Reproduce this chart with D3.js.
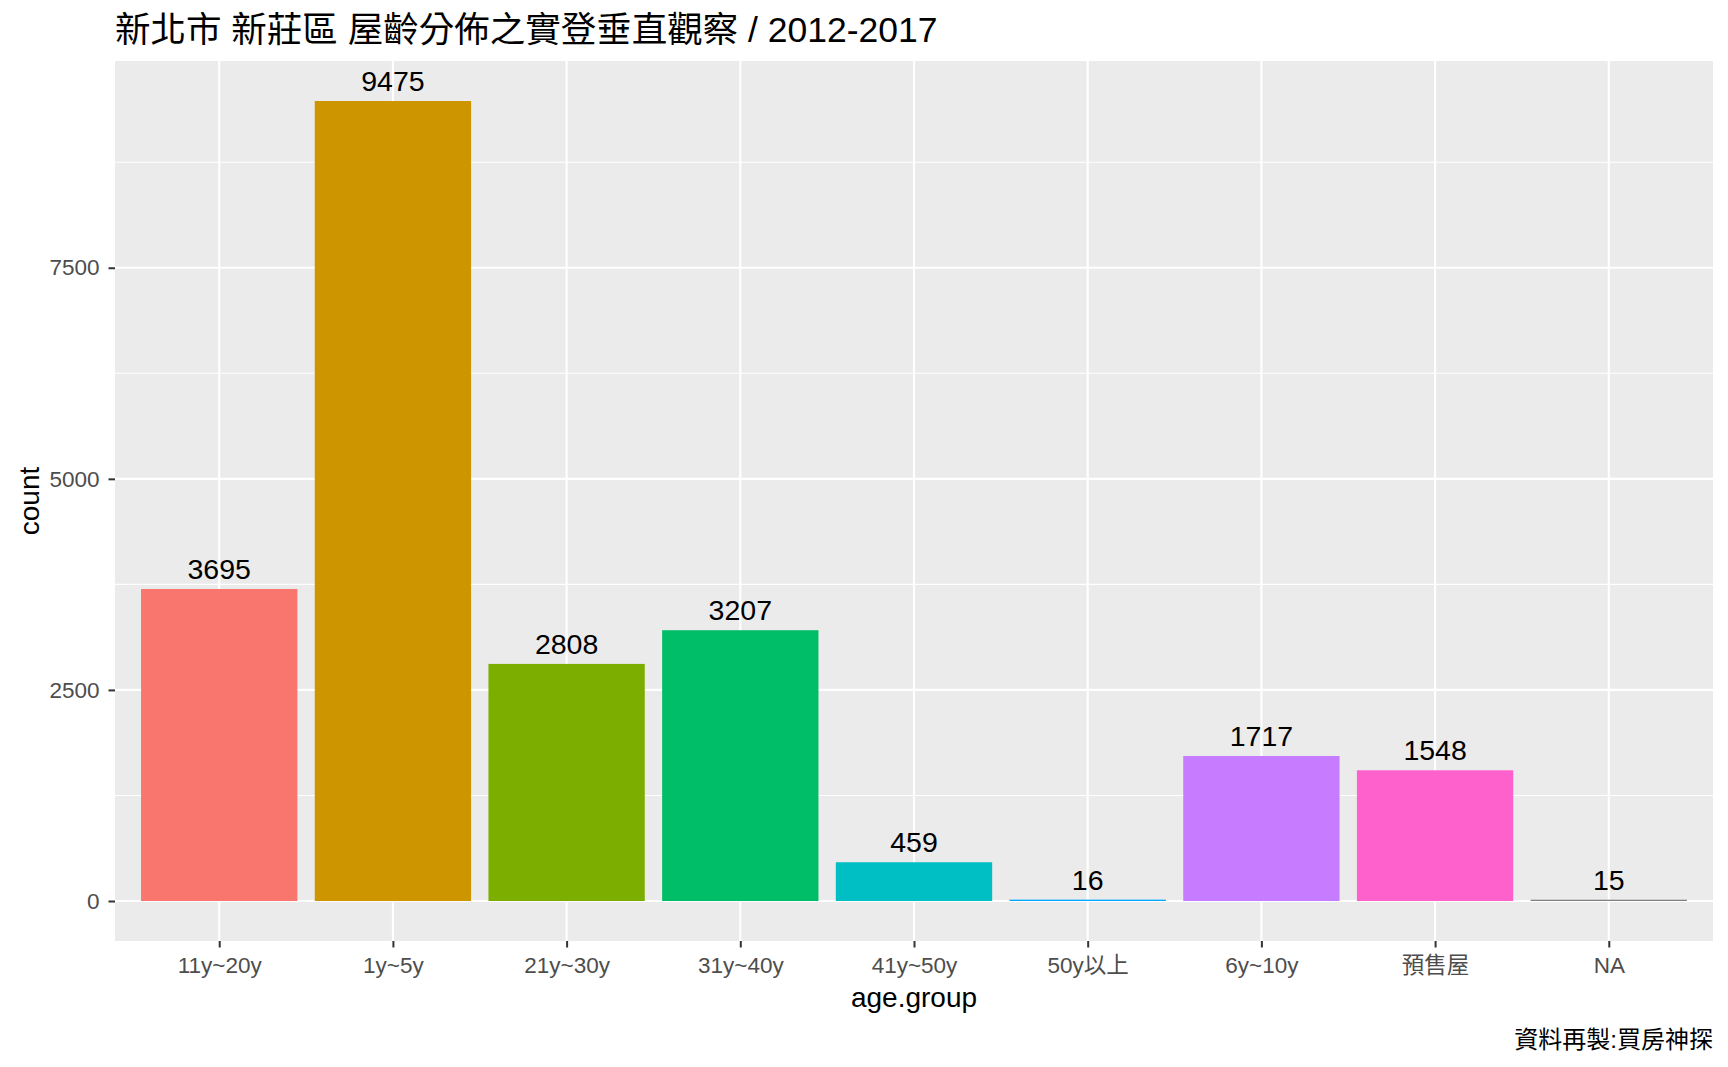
<!DOCTYPE html>
<html><head><meta charset="utf-8">
<script src="https://cdn.jsdelivr.net/npm/d3@7"></script>
<style>
html,body{margin:0;padding:0;background:#fff;}
text{font-family:"Liberation Sans","Noto Sans CJK TC",Arial,sans-serif;}
</style></head>
<body>
<svg id="chart" width="1728" height="1067"></svg>
<script>
const categories = ["11y~20y","1y~5y","21y~30y","31y~40y","41y~50y","50y以上","6y~10y","預售屋","NA"];
const counts = [3695, 9475, 2808, 3207, 459, 16, 1717, 1548, 15];
const colors = ["#F8766D","#CD9600","#7CAE00","#00BE67","#00BFC4","#00A9FF","#C77CFF","#FF61CC","#7F7F7F"];
const yTicks = [0, 2500, 5000, 7500];
const yMinor = [1250, 3750, 6250, 8750];

const svg = d3.select("#chart");
const L = 115, R = 1713, T = 61, B = 941;
const maxV = d3.max(counts);
const y = d3.scaleLinear().domain([-0.05*maxV, maxV*1.05]).range([B, T]);
const x = d3.scalePoint().domain(categories).range([L, R]).padding(0.6);
const bw = x.step()*0.9;

svg.append("rect").attr("x",L).attr("y",T).attr("width",R-L).attr("height",B-T).attr("fill","#EBEBEB");
const g = svg.append("g");
yMinor.forEach(v=>g.append("line").attr("x1",L).attr("x2",R).attr("y1",y(v)).attr("y2",y(v)).attr("stroke","#fff").attr("stroke-width",1.05));
yTicks.forEach(v=>g.append("line").attr("x1",L).attr("x2",R).attr("y1",y(v)).attr("y2",y(v)).attr("stroke","#fff").attr("stroke-width",2.1));
categories.forEach(c=>g.append("line").attr("x1",x(c)).attr("x2",x(c)).attr("y1",T).attr("y2",B).attr("stroke","#fff").attr("stroke-width",2.1));

categories.forEach((c,i)=>{
  const y0 = y(0), y1 = y(counts[i]);
  g.append("rect").attr("x",x(c)-bw/2).attr("y",y1).attr("width",bw).attr("height",Math.max(1.2,y0-y1)).attr("fill",colors[i]);
  g.append("text").attr("x",x(c)).attr("y",y1-10).attr("text-anchor","middle").attr("font-size",28.5).attr("fill","#000").text(counts[i]);
});

// y axis
const yAxis = svg.append("g").attr("transform",`translate(${L},0)`)
  .call(d3.axisLeft(y).tickValues(yTicks).tickSize(6.5).tickPadding(9).tickFormat(d3.format("d")));
yAxis.select(".domain").remove();
yAxis.selectAll(".tick line").attr("stroke","#333").attr("stroke-width",2);
yAxis.selectAll(".tick text").attr("font-size",22.5).attr("fill","#4D4D4D").attr("font-family",null);

// x axis
const xAxis = svg.append("g").attr("transform",`translate(0,${B})`)
  .call(d3.axisBottom(x).tickSize(6.5).tickPadding(8));
xAxis.select(".domain").remove();
xAxis.selectAll(".tick line").attr("stroke","#333").attr("stroke-width",2);
xAxis.selectAll(".tick text").attr("font-size",22.5).attr("fill","#4D4D4D").attr("font-family",null).attr("dy",null).attr("y",32);

// axis titles
svg.append("text").attr("x",(L+R)/2).attr("y",1007).attr("text-anchor","middle").attr("font-size",28).attr("fill","#000").text("age.group");
svg.append("text").attr("transform","translate(39,501) rotate(-90)").attr("text-anchor","middle").attr("font-size",28).attr("fill","#000").text("count");

// title
svg.append("text").attr("x",L).attr("y",42).attr("font-size",35.5).attr("fill","#000").text("新北市 新莊區 屋齡分佈之實登垂直觀察 / 2012-2017");
// caption
svg.append("text").attr("x",R).attr("y",1048).attr("text-anchor","end").attr("font-size",24).attr("fill","#000").text("資料再製:買房神探");
</script>
</body></html>
